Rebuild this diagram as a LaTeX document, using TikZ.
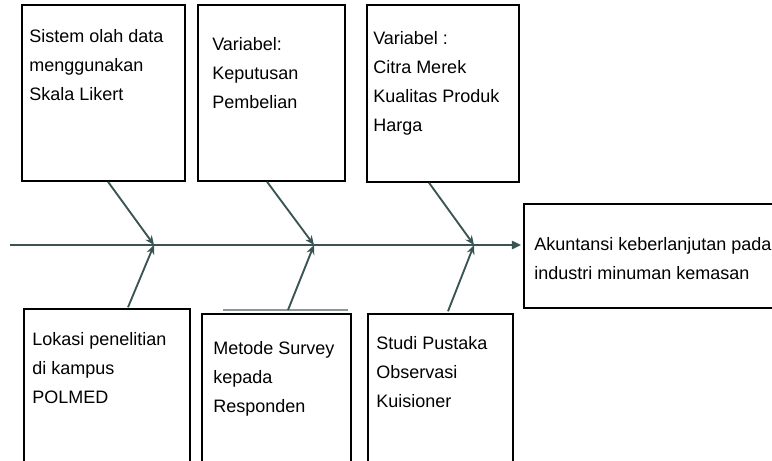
\documentclass[tikz,border=0pt]{standalone}
\usepackage{fontspec}
\setmainfont{Liberation Sans}
\usetikzlibrary{positioning,calc,fit,arrows.meta}
\definecolor{tulangwarna}{RGB}{58,84,84}
\tikzstyle{kotak}=[draw=black, line width=1.1pt, inner sep=0pt]
\tikzstyle{isi}=[anchor=north west, align=left, inner sep=0pt, font=\fontsize{13.5}{21.75}\selectfont]
\tikzstyle{tulang}=[draw=tulangwarna, line width=1.4pt, -{Stealth[length=7pt,width=6pt]}]
\tikzstyle{punggung}=[draw=tulangwarna, line width=1.8pt, -{Triangle[length=7pt,width=6pt]}]

\begin{document}
\begin{tikzpicture}[x=0.75pt,y=-0.75pt]
\clip (0,0) rectangle (772,461);
% kotak atas
\node[kotak, fit={(22,5) (185,181)}] (sistem) {};
\node[kotak, fit={(198,5) (345,181)}] (keputusan) {};
\node[kotak, fit={(367,5) (519,182)}] (citra) {};
% kotak bawah
\node[kotak, fit={(24,309) (190,490)}] (lokasi) {};
\node[kotak, fit={(202,314) (351,490)}] (metode) {};
\node[kotak, fit={(368,314) (513,490)}] (studi) {};
% kotak hasil
\node[kotak, fit={(524,204) (790,308)}] (akuntansi) {};
% teks
\node[isi] (t-sistem) at (29,29) {Sistem olah data\\menggunakan\\Skala Likert};
\node[isi] (t-keputusan) at (212,37) {Variabel:\\Keputusan\\Pembelian};
\node[isi] (t-citra) at (373,31) {Variabel :\\Citra Merek\\Kualitas Produk\\Harga};
\node[isi] (t-lokasi) at (32,332) {Lokasi penelitian\\di kampus\\POLMED};
\node[isi] (t-metode) at (213,341) {Metode Survey\\kepada\\Responden};
\node[isi] (t-studi) at (376,336) {Studi Pustaka\\Observasi\\Kuisioner};
\node[isi] (t-akuntansi) at (534,237) {Akuntansi keberlanjutan pada\\industri minuman kemasan};
% tulang ikan
\coordinate (ekor) at (10,245);
\coordinate (j1) at (154,245);
\coordinate (j2) at (314,245);
\coordinate (j3) at (474,245);
\coordinate (m) at (288,310);
\draw[draw=tulangwarna!60, line width=0.8pt] (223,310) -- (348,310);
\draw[punggung] (ekor) -- ($(akuntansi.west |- ekor)+(-2,0)$);
\draw[tulang] ($(sistem.south)+(4.5,0)$) -- (j1);
\draw[tulang] ($(lokasi.north)+(21,-1)$) -- (j1);
\draw[tulang] ($(keputusan.south)+(-4.5,0)$) -- (j2);
\draw[tulang] (m) -- (j2);
\draw[tulang] ($(citra.south)+(-14,0)$) -- (j3);
\draw[tulang] ($(studi.north)+(7.5,-2)$) -- (j3);
\end{tikzpicture}
\end{document}
